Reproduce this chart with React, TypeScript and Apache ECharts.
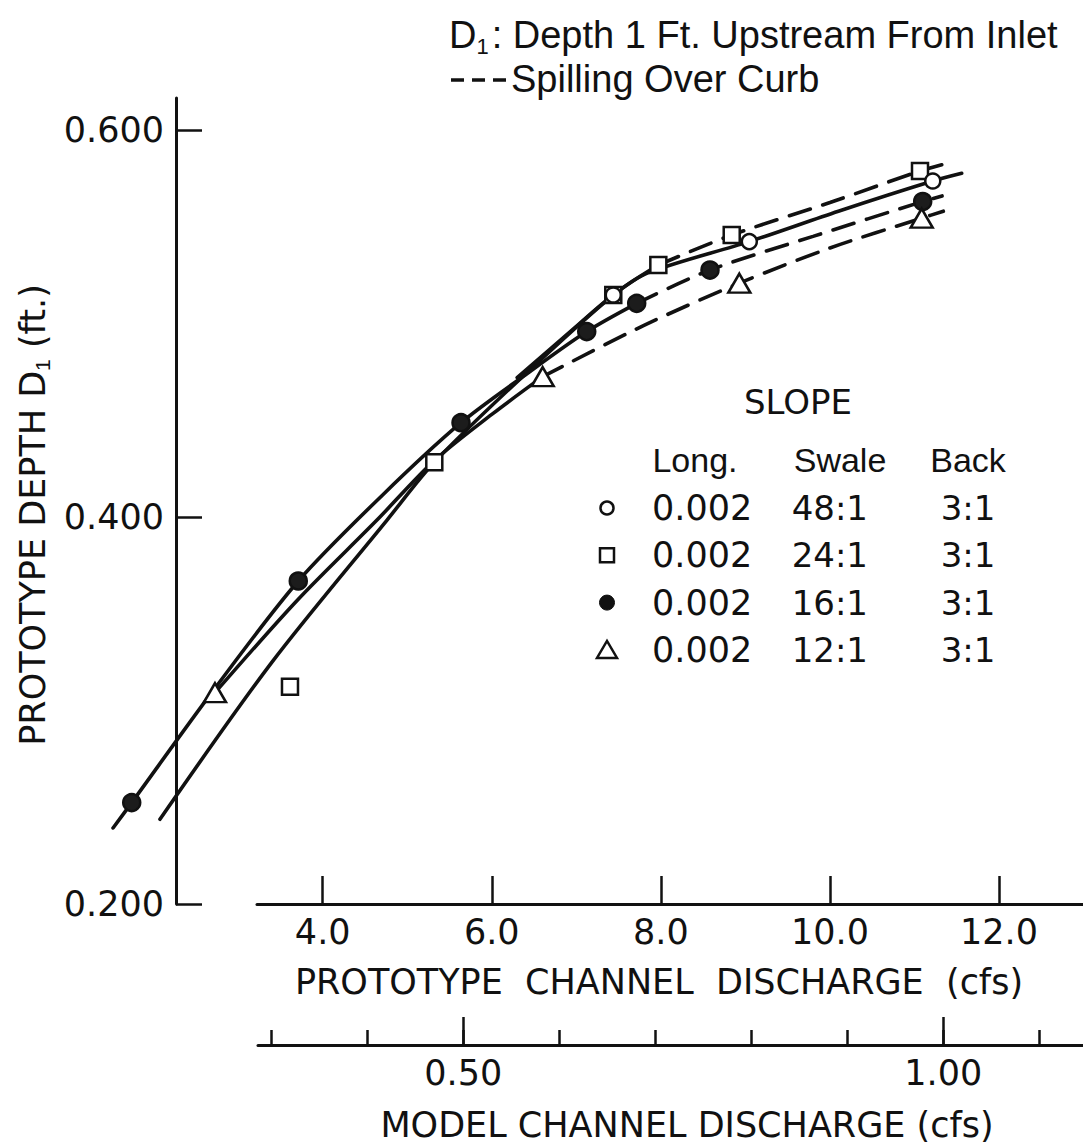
import React, { useEffect, useRef } from "react";
import * as echarts from "echarts";

// ---------- axis ticks ----------
const depthTicks = [0.2, 0.4, 0.6];
const protoTicks = [4, 6, 8, 10, 12];
const modelMinorTicks = [0.3, 0.4, 0.5, 0.6, 0.7, 0.8, 0.9, 1.0, 1.1];
const modelMajorTicks = [0.5, 1.0];

// ---------- visible extent of each axis ----------
const depthRange = [0.2, 0.6165];
const protoPlotRange = [0.183, 12.993];
const protoAxisRange = [3.223, 12.993];
const modelAxisRange = [0.2862, 1.1455];

// ---------- measured points [prototype discharge (cfs), depth D1 (ft)] ----------
const swale48Points = [[7.437, 0.5147], [9.046, 0.5423], [11.216, 0.5736]];
const swale24Points = [[3.613, 0.3123], [5.32, 0.4283], [7.437, 0.5147], [7.97, 0.5302], [8.838, 0.5457], [11.065, 0.5788]];
const swale16Points = [[1.741, 0.2524], [3.711, 0.3669], [5.636, 0.4487], [7.123, 0.4958], [7.714, 0.5104], [8.581, 0.5276], [11.097, 0.563]];
const swale12Points = [[2.726, 0.3092], [6.602, 0.4725], [8.928, 0.5208], [11.085, 0.5544]];

// ---------- fitted curves ----------
const curve48Solid = [[6.3, 0.472], [7.0, 0.4985], [7.437, 0.5147], [7.832, 0.5259], [9.046, 0.5423], [10.1, 0.558], [11.216, 0.5736], [11.558, 0.5776]];
const curve24Solid = [[2.075, 0.2438], [3.4, 0.325], [4.761, 0.3984], [5.32, 0.4283], [6.4, 0.474], [7.437, 0.5147], [7.97, 0.5302]];
const curve24Dashed = [[7.97, 0.5302], [8.838, 0.5457], [10.0, 0.5625], [11.065, 0.5788], [11.322, 0.582]];
const curve16Solid = [[1.52, 0.2393], [1.741, 0.2524], [2.7, 0.31], [3.711, 0.3669], [4.7, 0.411], [5.636, 0.4487], [6.4, 0.4735], [7.123, 0.4958], [7.714, 0.5104]];
const curve16Dashed = [[7.714, 0.5104], [8.581, 0.5276], [9.8, 0.545], [11.097, 0.563], [11.326, 0.5659]];
const curve12Solid = [[2.726, 0.3092], [3.7, 0.357], [4.642, 0.3984], [5.317, 0.429], [6.0, 0.453], [6.602, 0.4725]];
const curve12Dashed = [[6.602, 0.4725], [7.8, 0.499], [8.928, 0.5208], [10.0, 0.539], [11.085, 0.5544], [11.341, 0.558]];

// ---------- legend table ----------
const legendLong = ["0.002", "0.002", "0.002", "0.002"];
const legendSwale = ["48:1", "24:1", "16:1", "12:1"];
const legendBack = ["3:1", "3:1", "3:1", "3:1"];

const INK = "#111";
const NUM = "DejaVu Sans";
const TXT = "Liberation Sans";
const DASH = [22, 13];

function curve(data: number[][], dashed: boolean) {
  return {
    type: "line",
    xAxisIndex: 0,
    yAxisIndex: 0,
    data,
    smooth: 0.3,
    symbol: "none",
    silent: true,
    lineStyle: { color: INK, width: 3.6, type: dashed ? DASH : "solid", cap: "round" },
    z: 2,
  };
}

function points(data: number[][], symbol: string, size: any, filled: boolean) {
  return {
    type: "scatter",
    xAxisIndex: 0,
    yAxisIndex: 0,
    data,
    symbol,
    symbolSize: size,
    silent: true,
    itemStyle: {
      color: filled ? "#1c1c1c" : "#fff",
      borderColor: INK,
      borderWidth: 2.5,
      opacity: 1,
    },
    z: 5,
  };
}

export default function App() {
  const ref = useRef<HTMLDivElement>(null);

  useEffect(() => {
    document.body.style.margin = "0";
    const chart = echarts.init(ref.current!, null, { renderer: "svg" });

    const rowY = (i: number) => 508 + i * 47.3;
    const legendGraphics: any[] = [];
    legendGraphics.push({
      type: "text", x: 798, y: 402,
      style: { text: "SLOPE", fontFamily: NUM, fontSize: 34, fill: INK, align: "center", verticalAlign: "middle" },
    });
    [["Long.", 695], ["Swale", 840], ["Back", 968]].forEach(([t, x]) => {
      legendGraphics.push({
        type: "text", x, y: 460,
        style: { text: t, fontFamily: TXT, fontSize: 34, fill: INK, align: "center", verticalAlign: "middle" },
      });
    });
    legendLong.forEach((t, i) => {
      legendGraphics.push({
        type: "text", x: 652, y: rowY(i),
        style: { text: t, fontFamily: NUM, fontSize: 35, fill: INK, align: "left", verticalAlign: "middle" },
      });
      legendGraphics.push({
        type: "text", x: 868, y: rowY(i),
        style: { text: legendSwale[i], fontFamily: NUM, fontSize: 34, fill: INK, align: "right", verticalAlign: "middle" },
      });
      legendGraphics.push({
        type: "text", x: 968, y: rowY(i),
        style: { text: legendBack[i], fontFamily: NUM, fontSize: 34, fill: INK, align: "center", verticalAlign: "middle" },
      });
    });
    legendGraphics.push(
      { type: "circle", shape: { cx: 607, cy: rowY(0), r: 6.5 }, style: { fill: "#fff", stroke: INK, lineWidth: 2.5 } },
      { type: "rect", shape: { x: 600, y: rowY(1) - 7, width: 14, height: 14 }, style: { fill: "#fff", stroke: INK, lineWidth: 2.5 } },
      { type: "circle", shape: { cx: 607, cy: rowY(2), r: 7.5 }, style: { fill: "#111", stroke: INK, lineWidth: 1 } },
      { type: "polygon", shape: { points: [[597, rowY(3) + 8], [617, rowY(3) + 8], [607, rowY(3) - 9]] }, style: { fill: "#fff", stroke: INK, lineWidth: 2.5 } }
    );

    const titleGraphics = [
      {
        type: "text", x: 449, y: 35,
        style: {
          text: "{a|D}{s|1}{a|: Depth 1 Ft. Upstream From Inlet}",
          verticalAlign: "middle",
          align: "left",
          rich: {
            a: { fontFamily: TXT, fontSize: 38, fill: INK, lineHeight: 44 },
            s: { fontFamily: TXT, fontSize: 22, fill: INK, lineHeight: 44, verticalAlign: "bottom", padding: [0, 3, 0, 0] },
          },
        },
      },
      {
        type: "line",
        shape: { x1: 451, y1: 80, x2: 506, y2: 80 },
        style: { stroke: INK, lineWidth: 3.5, lineDash: [13, 8] },
      },
      {
        type: "text", x: 511, y: 79,
        style: { text: "Spilling Over Curb", fontFamily: TXT, fontSize: 38, fill: INK, align: "left", verticalAlign: "middle" },
      },
    ];

    const option: any = {
      animation: false,
      backgroundColor: "#fff",
      grid: [
        { left: 0, right: 0, top: 98, bottom: 243 },
        { left: 257, right: 0, top: 98, bottom: 243 },
        { left: 258, right: 0, top: 98, bottom: 243 },
        { left: 176, right: 0, top: 98, bottom: 243 },
      ],
      xAxis: [
        { gridIndex: 0, type: "value", min: protoPlotRange[0], max: protoPlotRange[1], show: false },
        {
          gridIndex: 1, type: "value", position: "bottom",
          min: protoAxisRange[0], max: protoAxisRange[1],
          axisLine: { show: true, onZero: false, lineStyle: { color: INK, width: 3 } },
          axisTick: { show: true, inside: true, length: 28, customValues: protoTicks, lineStyle: { color: INK, width: 2.5 } },
          axisLabel: {
            show: true, customValues: protoTicks, margin: 10,
            formatter: (v: number) => v.toFixed(1),
            fontFamily: NUM, fontSize: 35, color: INK,
          },
          splitLine: { show: false },
          name: "PROTOTYPE  CHANNEL  DISCHARGE  (cfs)",
          nameLocation: "middle", nameGap: 60,
          nameTextStyle: { fontFamily: NUM, fontSize: 35, color: INK, padding: [0, 22, 0, 0] },
        },
        {
          gridIndex: 2, type: "value", position: "bottom", offset: 144,
          min: modelAxisRange[0], max: modelAxisRange[1],
          axisLine: { show: true, onZero: false, lineStyle: { color: INK, width: 3 } },
          axisTick: { show: true, inside: true, length: 15, customValues: modelMinorTicks, lineStyle: { color: INK, width: 2.5 } },
          axisLabel: { show: false },
          splitLine: { show: false },
        },
        {
          gridIndex: 2, type: "value", position: "bottom", offset: 144,
          min: modelAxisRange[0], max: modelAxisRange[1],
          axisLine: { show: false, onZero: false },
          axisTick: { show: true, inside: true, length: 28, customValues: modelMajorTicks, lineStyle: { color: INK, width: 2.5 } },
          axisLabel: {
            show: true, customValues: modelMajorTicks, margin: 10,
            formatter: (v: number) => v.toFixed(2),
            fontFamily: NUM, fontSize: 35, color: INK,
          },
          splitLine: { show: false },
          name: "MODEL CHANNEL DISCHARGE (cfs)",
          nameLocation: "middle", nameGap: 62,
          nameTextStyle: { fontFamily: NUM, fontSize: 35, color: INK, padding: [0, 0, 0, 33] },
        },
        { gridIndex: 3, type: "value", min: 0, max: 1, show: false },
      ],
      yAxis: [
        { gridIndex: 0, type: "value", min: depthRange[0], max: depthRange[1], show: false },
        { gridIndex: 1, type: "value", min: depthRange[0], max: depthRange[1], show: false },
        { gridIndex: 2, type: "value", min: depthRange[0], max: depthRange[1], show: false },
        {
          gridIndex: 3, type: "value", position: "left",
          min: depthRange[0], max: depthRange[1],
          axisLine: { show: true, onZero: false, lineStyle: { color: INK, width: 3 } },
          axisTick: { show: true, inside: true, length: 26, customValues: depthTicks, lineStyle: { color: INK, width: 2.5 } },
          axisLabel: {
            show: true, customValues: depthTicks, margin: 12,
            formatter: (v: number) => v.toFixed(3),
            fontFamily: NUM, fontSize: 35, color: INK,
          },
          splitLine: { show: false },
          name: "{a|PROTOTYPE DEPTH D}{s|1}{a| (ft.)}",
          nameLocation: "middle", nameGap: 122,
          nameTextStyle: {
            color: INK,
            padding: [0, 28, 0, 0],
            rich: {
              a: { fontFamily: NUM, fontSize: 35, color: INK, lineHeight: 40 },
              s: { fontFamily: TXT, fontSize: 21, color: INK, lineHeight: 40, verticalAlign: "bottom" },
            },
          },
        },
      ],
      series: [
        curve(curve48Solid, false),
        curve(curve24Solid, false),
        curve(curve24Dashed, true),
        curve(curve16Solid, false),
        curve(curve16Dashed, true),
        curve(curve12Solid, false),
        curve(curve12Dashed, true),
        points(swale16Points, "circle", 17, true),
        points(swale12Points, "triangle", [22, 19], false),
        points(swale24Points, "rect", 16, false),
        points(swale48Points, "circle", 15, false),
      ],
      graphic: [...titleGraphics, ...legendGraphics],
    };

    chart.setOption(option);
    return () => chart.dispose();
  }, []);

  return (
    <div
      ref={ref}
      style={{ position: "absolute", left: 0, top: 0, width: 1083, height: 1147, background: "#fff" }}
    />
  );
}
